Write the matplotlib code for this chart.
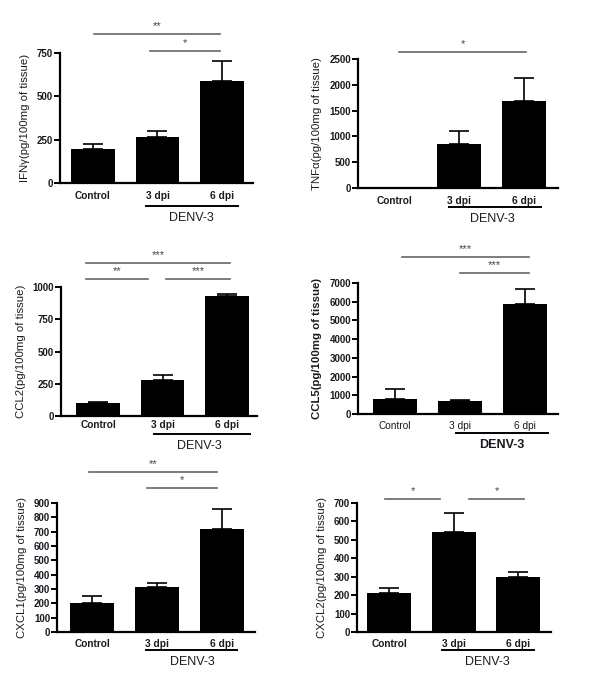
import matplotlib
matplotlib.use("Agg")
import matplotlib.pyplot as plt

plt.rcParams['font.family'] = ['Liberation Sans', 'DejaVu Sans']

groups = ["Control", "3 dpi", "6 dpi"]

# mean values and upper SEM
ifng = [195, 265, 590]
ifng_err = [30, 33, 115]
tnfa = [0, 860, 1690]
tnfa_err = [0, 235, 445]
ccl2 = [100, 280, 928]
ccl2_err = [12, 35, 14]
ccl5 = [780, 680, 5880]
ccl5_err = [550, 50, 800]
cxcl1 = [205, 315, 720]
cxcl1_err = [45, 25, 138]
cxcl2 = [212, 540, 298]
cxcl2_err = [28, 105, 30]

ylabels = ["IFN\u03b3(pg/100mg of tissue)", "TNF\u03b1(pg/100mg of tissue)",
           "CCL2(pg/100mg of tissue)", "CCL5(pg/100mg of tissue)",
           "CXCL1(pg/100mg of tissue)", "CXCL2(pg/100mg of tissue)"]
yticks = [[0, 250, 500, 750], [0, 500, 1000, 1500, 2000, 2500], [0, 250, 500, 750, 1000],
          [0, 1000, 2000, 3000, 4000, 5000, 6000, 7000],
          [0, 100, 200, 300, 400, 500, 600, 700, 800, 900],
          [0, 100, 200, 300, 400, 500, 600, 700]]
# significance marks per panel
sig_stars = [["**", "*"], ["*"], ["***", "**", "***"], ["***", "***"], ["**", "*"], ["*", "*"]]

means = [ifng, tnfa, ccl2, ccl5, cxcl1, cxcl2]
errs = [ifng_err, tnfa_err, ccl2_err, ccl5_err, cxcl1_err, cxcl2_err]

W, H = 600, 689
fig = plt.figure(figsize=(6, 6.89), dpi=100)

# axes boxes in pixels: left, right, bottom, top, and x-limits
boxes = [(60, 253, 183, 53, -0.51, 2.48),
         (358, 558, 188, 59, -0.57, 2.53),
         (61, 257, 416, 287, -0.58, 2.47),
         (358, 558, 414, 283, -0.57, 2.51),
         (57, 255, 632, 503, -0.54, 2.51),
         (357, 551, 632, 503, -0.50, 2.51)]
xpads = [6, 6, 3, 5, 5, 5]
# significance line spans (x in group units) and pixel rows
sig_x = [[(0.02, 1.97), (0.89, 1.97)],
         [(0.07, 2.04)],
         [(-0.19, 2.05), (-0.19, 0.77), (1.06, 2.05)],
         [(0.11, 2.06), (1.0, 2.06)],
         [(-0.05, 1.93), (0.85, 1.93)],
         [(-0.06, 0.79), (1.24, 2.09)]]
sig_y = [[34, 51], [52], [263, 279, 279], [257, 273], [472, 488], [499, 499]]
denv_y = [206, 207, 434, 433, 650, 650]
denv_x = [(0.82, 2.25), (0.84, 2.27), (0.86, 2.36), (0.94, 2.35), (0.83, 2.23), (0.82, 2.25)]
denv_tx = [1.53, 1.51, 1.57, 1.65, 1.54, 1.53]

txtc = "#1a1a22"
for i in range(6):
    l, r, y0, y1, xl, xr = boxes[i]
    ax = fig.add_axes([l / W, 1 - y0 / H, (r - l) / W, (y0 - y1) / H])
    x = range(3)
    ax.bar(x, means[i], width=0.68, color="black")
    ax.errorbar(x, means[i], yerr=[[0, 0, 0], errs[i]], fmt="none",
                ecolor="black", elinewidth=1.2, capsize=7, capthick=1.2)
    ax.set_xlim(xl, xr)
    ax.set_ylim(0, yticks[i][-1])
    ax.set_yticks(yticks[i])
    ax.set_xticks(list(x))
    ax.set_xticklabels(groups, fontsize=7.3, fontweight="bold" if i != 3 else "normal", color=txtc)
    ax.set_yticklabels([str(t) for t in yticks[i]], fontsize=7, fontweight="bold", color=txtc)
    ax.set_ylabel(ylabels[i], fontsize=8.2, color=txtc,
                  fontweight="bold" if i == 3 else "normal", labelpad=5)
    for s in ["top", "right"]:
        ax.spines[s].set_visible(False)
    for s in ["left", "bottom"]:
        ax.spines[s].set_linewidth(1.6)
    ax.tick_params(axis="y", length=4, width=1.4, pad=1)
    ax.tick_params(axis="x", length=0, pad=xpads[i])
    tr = ax.get_xaxis_transform()
    for (a, b), stars, yp in zip(sig_x[i], sig_stars[i], sig_y[i]):
        yf = (y0 - yp) / (y0 - y1)
        ax.plot([a, b], [yf, yf], transform=tr, color="#666666", lw=1.2, clip_on=False)
        ax.text((a + b) / 2, yf + 0.025, stars, transform=tr, ha="center",
                va="bottom", fontsize=8, color="#444444")
    yd = (y0 - denv_y[i]) / (y0 - y1)
    ax.plot(list(denv_x[i]), [yd, yd], transform=tr, color="black", lw=1.4, clip_on=False)
    ax.text(denv_tx[i], yd - 0.045, "DENV-3", transform=tr, ha="center",
            va="top", fontsize=9, color=txtc, fontweight="bold" if i == 3 else "normal")

fig.savefig("out.png", dpi=100)
